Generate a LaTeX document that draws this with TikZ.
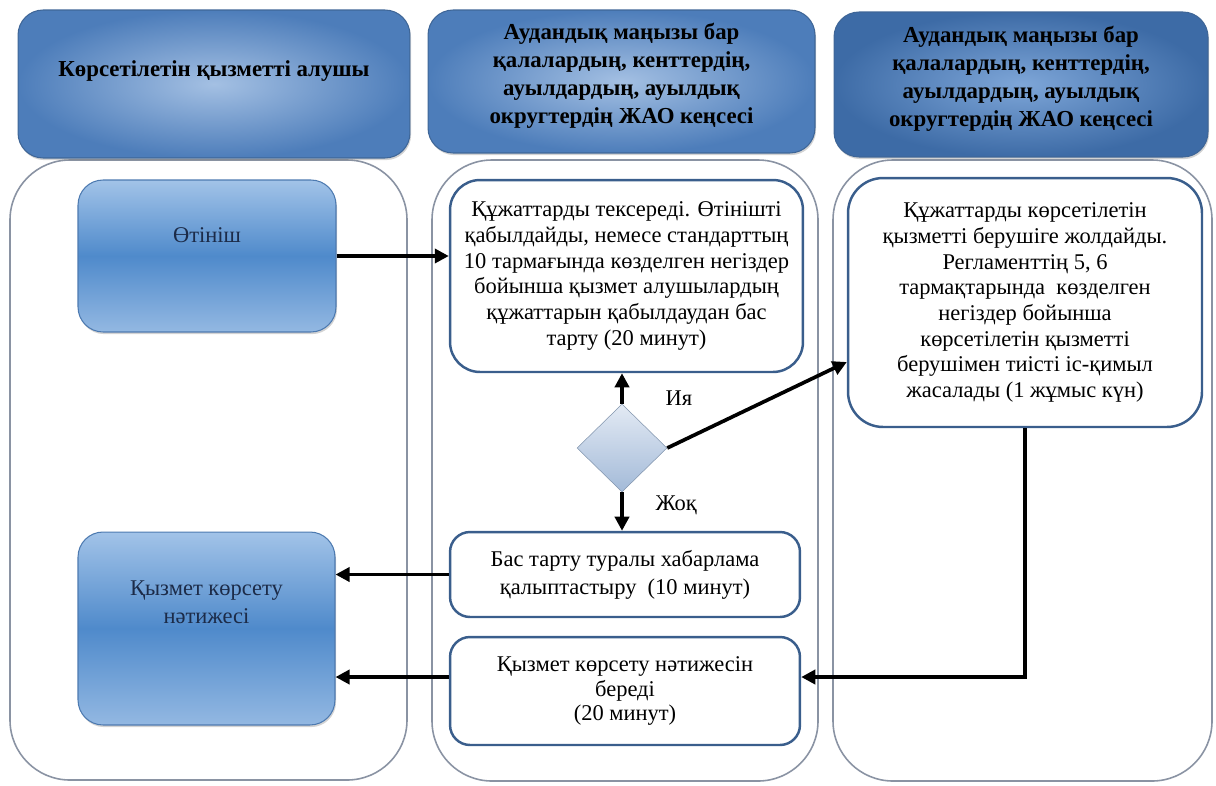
\documentclass[tikz,border=0pt]{standalone}
\usepackage{fontspec}
\setmainfont{Liberation Serif}
\usetikzlibrary{positioning,shapes.geometric,arrows.meta,shadows}

\definecolor{lanegray}{HTML}{8A93A3}
\definecolor{hdrin}{HTML}{A4C0E3}
\definecolor{hdrout}{HTML}{4D7DBA}
\definecolor{hdrinC}{HTML}{7EA6D8}
\definecolor{hdroutC}{HTML}{3D6BA6}
\definecolor{hdredge}{HTML}{3F6697}
\definecolor{doctop}{HTML}{A2C3E8}
\definecolor{docmid}{HTML}{4F8ACB}
\definecolor{docbot}{HTML}{93B8E2}
\definecolor{docedge}{HTML}{4D7AB0}
\definecolor{boxedge}{HTML}{3A5E8C}
\definecolor{navy}{HTML}{1C2B48}
\definecolor{dtop}{HTML}{E3EAF4}
\definecolor{dbot}{HTML}{A3BAD8}

\tikzset{
  lane/.style={draw=lanegray, line width=0.9pt, rounded corners=1.2cm},
  hdr/.style={rectangle, rounded corners=0.5cm, inner color=hdrin, outer color=hdrout,
    draw=hdredge, line width=0.6pt, align=center, text=black,
    font=\fontsize{13}{16}\selectfont\bfseries,
    drop shadow={opacity=0.35, shadow xshift=0.6pt, shadow yshift=-1.2pt}},
  doc/.style={rectangle, rounded corners=0.5cm, top color=doctop, bottom color=docbot,
    middle color=docmid, draw=docedge, line width=0.6pt, align=center, text=navy,
    font=\fontsize{12.8}{15.5}\selectfont,
    drop shadow={opacity=0.35, shadow xshift=0.6pt, shadow yshift=-1.2pt}},
  stepbox/.style={rectangle, rounded corners=0.6cm, draw=boxedge, line width=1.4pt,
    fill=white, align=center, font=\fontsize{12.8}{14.6}\selectfont},
  choice/.style={diamond, aspect=1, top color=dtop, bottom color=dbot, draw=dbot!80!black,
    line width=0.3pt, minimum width=1.8cm, minimum height=1.76cm, inner sep=0pt},
  flow/.style={line width=2.1pt, -{Triangle[length=8pt,width=8pt]}},
  answer/.style={font=\fontsize{12.8}{15}\selectfont}
}

\begin{document}
\begin{tikzpicture}[x=0.02cm,y=-0.02cm]
\useasboundingbox (0,0) rectangle (1216,785);
% lanes
\draw[lane] (10,160) rectangle (407,780);
\draw[lane] (432,160) rectangle (818,781);
\draw[lane] (833,160) rectangle (1212,781);
% headers
\node[hdr, minimum width=7.84cm, minimum height=2.96cm, text depth=18pt] (hdrA) at (214,84)
  {Көрсетілетін қызметті алушы};
\node[hdr, minimum width=7.74cm, minimum height=2.86cm, text depth=9pt] (hdrB) at (621.5,81.5)
  {Аудандық маңызы бар\\қалалардың, кенттердің,\\ауылдардың, ауылдық\\округтердің ЖАО кеңсесі};
\node[hdr, inner color=hdrinC, outer color=hdroutC, minimum width=7.48cm, minimum height=2.9cm,
  text depth=9pt] (hdrC) at (1021,84.5)
  {Аудандық маңызы бар\\қалалардың, кенттердің,\\ауылдардың, ауылдық\\округтердің ЖАО кеңсесі};
% first lane
\node[doc, minimum width=5.16cm, minimum height=3.04cm, text depth=24pt] (otinish) at (207,256)
  {Өтініш};
\node[doc, minimum width=5.14cm, minimum height=3.86cm, text depth=30pt] (result) at (206.5,628.5)
  {Қызмет көрсету\\нәтижесі};
% second lane
\node[stepbox, minimum width=7.06cm, minimum height=3.84cm] (check) at (626.5,276)
  {Құжаттарды тексереді. Өтінішті\\қабылдайды, немесе стандарттың\\10 тармағында көзделген негіздер\\бойынша қызмет алушылардың\\құжаттарын қабылдаудан бас\\тарту (20 минут)};
\node[choice] (dec) at (622,448) {};
\node[stepbox, rounded corners=0.4cm, minimum width=7cm, minimum height=1.7cm,
  font=\fontsize{12.8}{16}\selectfont] (refuse) at (625,574.5)
  {Бас тарту туралы хабарлама\\қалыптастыру\ \ (10 минут)};
\node[stepbox, rounded corners=0.4cm, minimum width=7cm, minimum height=2.16cm,
  font=\fontsize{12.8}{14.2}\selectfont] (issue) at (625,691)
  {Қызмет көрсету нәтижесін\\береді\\(20 минут)};
% third lane
\node[stepbox, rounded corners=0.7cm, minimum width=7.08cm, minimum height=4.98cm] (send) at (1025,302.5)
  {Құжаттарды көрсетілетін\\қызметті берушіге жолдайды.\\Регламенттің 5, 6\\тармақтарында\ \ көзделген\\негіздер бойынша\\көрсетілетін қызметті\\берушімен тиісті іс-қимыл\\жасалады (1 жұмыс күн)};
% arrows
\draw[flow] (otinish.east) -- (otinish.east -| check.west);
\draw[flow] (dec.north) -- node[answer, pos=0.2, right, xshift=0.72cm]{Ия} (dec.north |- check.south);
\draw[flow] (dec.south) -- node[answer, pos=0.35, right, xshift=0.52cm]{Жоқ} (dec.south |- refuse.north);
\draw[flow] (dec.east) -- ([yshift=-1.19cm]send.west);
\draw[flow] (refuse.west) -- (refuse.west -| result.east);
\draw[flow] ([yshift=0.28cm]issue.west) -- ([yshift=0.28cm]issue.west -| result.east);
\draw[flow] (send.south) |- ([yshift=0.28cm]issue.east);
\end{tikzpicture}
\end{document}
